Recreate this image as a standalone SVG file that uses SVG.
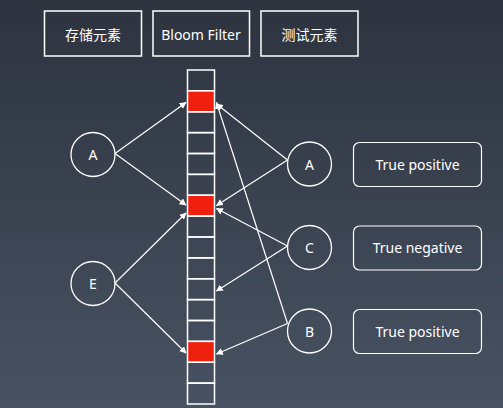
<svg xmlns="http://www.w3.org/2000/svg" width="503" height="408" viewBox="0 0 503 408">
<defs>
<linearGradient id="bg" x1="0" y1="0" x2="0" y2="1">
<stop offset="0" stop-color="#2d333f"/>
<stop offset="1" stop-color="#485262"/>
</linearGradient>
<marker id="ah" viewBox="0 0 10 10" refX="9" refY="5" markerWidth="7" markerHeight="7" markerUnits="userSpaceOnUse" orient="auto">
<path d="M0,0 L10,5 L0,10 Z" fill="#ffffff"/>
</marker>
<style>
.box{fill:none;stroke:#ffffff;stroke-width:1.5}
.rbox{fill:none;stroke:#ffffff;stroke-width:1.2}
.cell{fill:none;stroke:#ffffff;stroke-width:1.5}
.red{fill:#f0200e;stroke:#ffffff;stroke-width:1.5}
.circ{fill:none;stroke:#ffffff;stroke-width:1.3}
.t{font-family:"Noto Sans","Noto Sans CJK SC",sans-serif;font-size:14px;fill:#ffffff;text-anchor:middle;dominant-baseline:central}
.ln{stroke:#ffffff;stroke-width:1.2;fill:none;marker-end:url(#ah)}
</style>
</defs>
<rect width="503" height="408" fill="url(#bg)"/>
<g id="hdr-store"><rect class="box" x="44.5" y="11" width="97" height="45"/><text class="t" x="93" y="34">存储元素</text></g>
<g id="hdr-bloom"><rect class="box" x="153" y="11" width="96.5" height="45"/><text class="t" x="201" y="34">Bloom Filter</text></g>
<g id="hdr-test"><rect class="box" x="261" y="11" width="97" height="45"/><text class="t" x="309.5" y="34">测试元素</text></g>
<g id="bitarray">
<rect class="cell" x="187.5" y="70" width="27" height="20.875"/>
<rect class="red" x="187.5" y="90.875" width="27" height="20.875"/>
<rect class="cell" x="187.5" y="111.75" width="27" height="20.875"/>
<rect class="cell" x="187.5" y="132.625" width="27" height="20.875"/>
<rect class="cell" x="187.5" y="153.5" width="27" height="20.875"/>
<rect class="cell" x="187.5" y="174.375" width="27" height="20.875"/>
<rect class="red" x="187.5" y="195.25" width="27" height="20.875"/>
<rect class="cell" x="187.5" y="216.125" width="27" height="20.875"/>
<rect class="cell" x="187.5" y="237" width="27" height="20.875"/>
<rect class="cell" x="187.5" y="257.875" width="27" height="20.875"/>
<rect class="cell" x="187.5" y="278.75" width="27" height="20.875"/>
<rect class="cell" x="187.5" y="299.625" width="27" height="20.875"/>
<rect class="cell" x="187.5" y="320.5" width="27" height="20.875"/>
<rect class="red" x="187.5" y="341.375" width="27" height="20.875"/>
<rect class="cell" x="187.5" y="362.25" width="27" height="20.875"/>
<rect class="cell" x="187.5" y="383.125" width="27" height="20.875"/>
</g>
<g id="node-A-left"><circle class="circ" cx="93" cy="154.5" r="22"/><text class="t" x="93" y="154.5">A</text></g>
<g id="node-E-left"><circle class="circ" cx="93" cy="283.5" r="22"/><text class="t" x="93" y="283.5">E</text></g>
<g id="node-A-right"><circle class="circ" cx="309.5" cy="164" r="22"/><text class="t" x="309.5" y="164">A</text></g>
<g id="node-C-right"><circle class="circ" cx="309.5" cy="247.5" r="22"/><text class="t" x="309.5" y="247.5">C</text></g>
<g id="node-B-right"><circle class="circ" cx="309.5" cy="331" r="22"/><text class="t" x="309.5" y="331">B</text></g>
<g id="res-1"><rect class="rbox" x="353.5" y="142.5" width="128" height="44" rx="6"/><text class="t" x="417.5" y="164">True positive</text></g>
<g id="res-2"><rect class="rbox" x="353.5" y="226" width="128" height="44" rx="6"/><text class="t" x="417.5" y="247.5">True negative</text></g>
<g id="res-3"><rect class="rbox" x="353.5" y="309.5" width="128" height="44" rx="6"/><text class="t" x="417.5" y="331">True positive</text></g>
<g id="connectors">
<line class="ln" x1="115" y1="153.5" x2="186" y2="102.5"/>
<line class="ln" x1="115" y1="153.5" x2="186" y2="205"/>
<line class="ln" x1="115" y1="283" x2="186" y2="213"/>
<line class="ln" x1="115" y1="283" x2="186" y2="353"/>
<line class="ln" x1="287.5" y1="160" x2="216.5" y2="104"/>
<line class="ln" x1="287.5" y1="160" x2="216.5" y2="205.5"/>
<line class="ln" x1="287.5" y1="246" x2="216.5" y2="208.5"/>
<line class="ln" x1="287.5" y1="246" x2="216.5" y2="291"/>
<line class="ln" x1="287.5" y1="323.5" x2="216.5" y2="102.5"/>
<line class="ln" x1="287.5" y1="323.5" x2="216.5" y2="354"/>
</g>
</svg>
